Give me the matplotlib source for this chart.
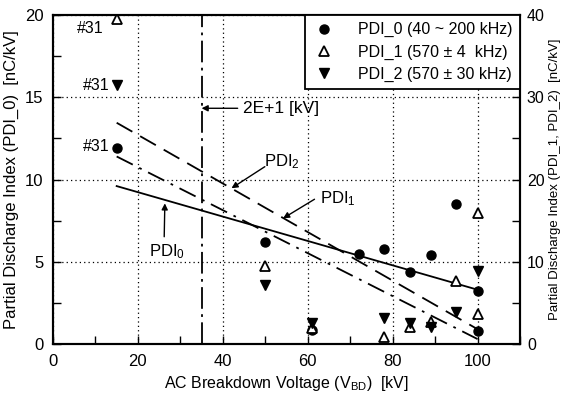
import matplotlib
matplotlib.use("Agg")
import matplotlib.pyplot as plt
from matplotlib.ticker import MultipleLocator

plt.rcParams['font.family'] = ['Liberation Sans', 'DejaVu Sans']
plt.rcParams['mathtext.fontset'] = 'custom'
plt.rcParams['mathtext.rm'] = 'Liberation Sans'

# ---- data (left axis: PDI_0; right axis: PDI_1, PDI_2) ----
x_pdi0 = [15, 50, 61, 72, 78, 84, 89, 95, 100, 100]
pdi0 = [11.9, 6.2, 0.85, 5.5, 5.8, 4.4, 5.4, 8.5, 3.2, 0.8]

x_pdi1 = [15, 50, 61, 78, 84, 89, 95, 100, 100]
pdi1 = [39.5, 9.5, 1.9, 0.9, 2.1, 2.7, 7.6, 15.9, 3.7]

x_pdi2 = [15, 50, 61, 78, 84, 89, 95, 100]
pdi2 = [31.5, 7.2, 2.6, 3.2, 2.6, 2.1, 3.9, 8.9]

# fitted trend lines
fit_x = [15, 100]
fit_pdi0 = [9.6, 3.3]          # left axis units
fit_dashed = [26.9, 1.8]       # right axis units
fit_dashdot = [22.8, 0.6]      # right axis units

v_limit = 35  # 2E+1 [kV]

fig = plt.figure(figsize=(5.63, 3.93), dpi=100)
ax = fig.add_axes([0.0941, 0.1247, 0.8295, 0.8371])
ax2 = ax.twinx()

ax.set_xlim(0, 110)
ax.set_ylim(0, 20)
ax2.set_ylim(0, 40)

ax.xaxis.set_major_locator(MultipleLocator(20))
ax.xaxis.set_minor_locator(MultipleLocator(10))
ax.yaxis.set_major_locator(MultipleLocator(5))
ax.yaxis.set_minor_locator(MultipleLocator(2.5))
ax2.yaxis.set_major_locator(MultipleLocator(10))
ax2.yaxis.set_minor_locator(MultipleLocator(5))
ax.set_xticks([0, 20, 40, 60, 80, 100])

for a in (ax, ax2):
    for s in a.spines.values():
        s.set_linewidth(1.5)
ax.tick_params(which='both', direction='in', length=6, width=1, top=False, labelsize=12, pad=7)
ax2.tick_params(which='both', direction='in', length=6, width=1, labelsize=11.5, pad=5)
ax.tick_params(axis='x', pad=7)

ax.grid(True, which='major', linestyle=(0, (1, 2.5)), color='k', linewidth=0.9)

# trend lines
ax.plot(fit_x, fit_pdi0, color='k', lw=1.3, ls='-')
ax2.plot(fit_x, fit_dashed, color='k', lw=1.3, ls=(0, (10, 5)))
ax2.plot(fit_x, fit_dashdot, color='k', lw=1.3, ls=(0, (10, 4, 1.5, 4)))
ax.axvline(v_limit, color='k', lw=1.3, ls=(0, (12, 3, 1.5, 3)))

# data points
h0, = ax.plot(x_pdi0, pdi0, 'o', color='k', ms=6.5, ls='none', label='PDI_0 (40 ~ 200 kHz)')
h1, = ax2.plot(x_pdi1, pdi1, '^', mfc='white', mec='k', mew=1.3, ms=6.5, ls='none',
               label='PDI_1 (570 ± 4  kHz)')
h2, = ax2.plot(x_pdi2, pdi2, 'v', color='k', ms=6.5, ls='none', label='PDI_2 (570 ± 30 kHz)')

leg = ax2.legend(handles=[h0, h1, h2], loc='upper right', bbox_to_anchor=(1, 1),
                 borderaxespad=0, fancybox=False, framealpha=1, edgecolor='k',
                 fontsize=11.5, handlelength=1.5, handletextpad=1.4, borderpad=0.45,
                 labelspacing=0.45)
leg.get_frame().set_linewidth(1.3)

# labels
ax.set_xlabel(r'AC Breakdown Voltage ($\mathregular{V_{BD}}$)  [kV]', fontsize=11.5)
ax.xaxis.set_label_coords(0.5, -0.09)
ax.set_ylabel('Partial Discharge Index (PDI_0)  [nC/kV]', fontsize=12, labelpad=4)
ax2.set_ylabel('Partial Discharge Index (PDI_1, PDI_2)  [nC/kV]', fontsize=9.5)
ax2.yaxis.set_label_coords(1.062, 0.5)

# annotations
ax.text(12.0, 19.2, '#31', fontsize=11.5, ha='right', va='center')
ax.text(13.4, 15.7, '#31', fontsize=11.5, ha='right', va='center')
ax.text(13.4, 12.0, '#31', fontsize=11.5, ha='right', va='center')

arrow = dict(arrowstyle='-|>', color='k', lw=1.0, mutation_scale=9, shrinkA=0, shrinkB=0)
ax.annotate('', xy=(v_limit, 14.33), xytext=(43.5, 14.33), arrowprops=arrow)
ax.text(44.7, 14.33, '2E+1 [kV]', fontsize=12.5, ha='left', va='center')

ax.annotate('', xy=(42.05, 9.47), xytext=(49.9, 10.78), arrowprops=arrow)
ax.text(53.9, 11.08, r'$\mathregular{PDI_2}$', fontsize=12, ha='center', va='center')

ax.annotate('', xy=(54.2, 7.64), xytext=(61.6, 8.8), arrowprops=arrow)
ax.text(67.1, 8.86, r'$\mathregular{PDI_1}$', fontsize=12, ha='center', va='center')

ax.annotate('', xy=(26.35, 8.55), xytext=(26.2, 6.52), arrowprops=arrow)
ax.text(26.8, 5.61, r'$\mathregular{PDI_0}$', fontsize=12, ha='center', va='center')

fig.savefig('out.png', dpi=100)
